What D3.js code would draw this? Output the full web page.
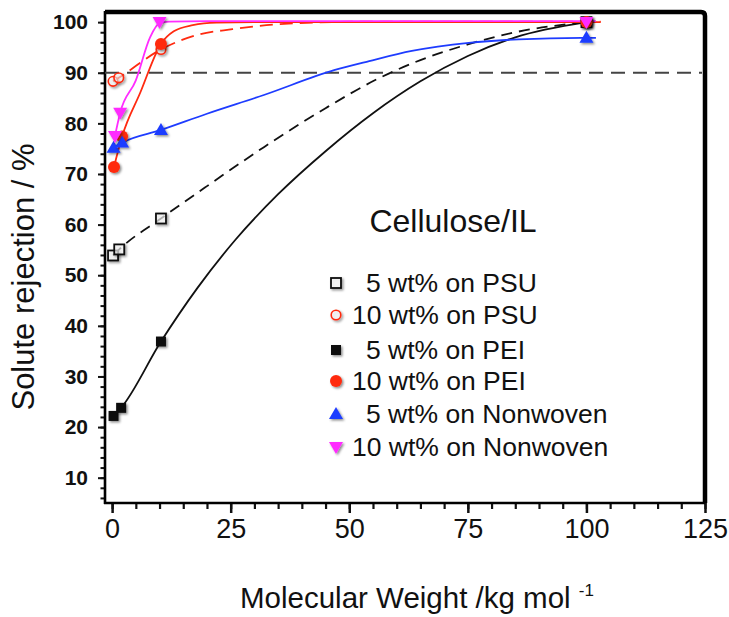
<!DOCTYPE html>
<html>
<head>
<meta charset="utf-8">
<script src="https://cdn.jsdelivr.net/npm/d3@7"></script>
<style>
  html, body { margin: 0; padding: 0; background: #fff; }
  svg { display: block; font-family: "Liberation Sans", Arial, Helvetica, sans-serif; }
</style>
</head>
<body>
<svg id="chart" width="729" height="617"></svg>
<script>
// ---------------- data ----------------
const xTickValues = [0, 25, 50, 75, 100, 125];
const yTickValues = [10, 20, 30, 40, 50, 60, 70, 80, 90, 100];
const thresholdLevel = 90;

const seriesNames = ["5 wt% on PSU", "10 wt% on PSU", "5 wt% on PEI", "10 wt% on PEI", "5 wt% on Nonwoven", "10 wt% on Nonwoven"];
const legendTitle = "Cellulose/IL";

// measured points
const psu5X  = [0.2, 1.5, 10.3, 100];
const psu5Y  = [53.9, 55.1, 61.2, 100];
const psu10X = [0.2, 1.4, 10.3, 100];
const psu10Y = [88.3, 89.0, 94.6, 100];
const pei5X  = [0.3, 1.9, 10.3, 100];
const pei5Y  = [22.2, 23.8, 36.9, 100];
const pei10X = [0.4, 2.1, 10.3, 100];
const pei10Y = [71.4, 77.4, 95.7, 100];
const nw5X   = [0.3, 2.1, 10.3, 100];
const nw5Y   = [75.2, 76.2, 78.7, 96.9];
const nw10X  = [0.6, 1.7, 10.0, 100];
const nw10Y  = [77.5, 82.1, 100, 100];

// fitted curves
const psu5FitX  = [0.2, 1.5, 10.3, 20, 32, 45, 56, 65, 75, 85, 100];
const psu5FitY  = [53.9, 55.1, 61.2, 67.6, 75.3, 83.0, 88.8, 92.5, 95.6, 98.0, 100];
const psu10FitX = [0.2, 1.4, 10.3, 18.5, 25.4, 32.5, 39.5, 46.4, 56, 100, 103];
const psu10FitY = [88.3, 89.0, 94.6, 97.6, 98.6, 99.4, 99.8, 100, 100.1, 100.1, 100.1];
const pei5FitX  = [0.3, 1.9, 10.3, 18, 26, 35, 45, 55, 65, 75, 85, 100];
const pei5FitY  = [22.2, 23.8, 36.9, 47.5, 57.0, 66.0, 74.5, 82.0, 88.3, 93.3, 97.0, 100];
const pei10FitX = [0.4, 2.1, 5.9, 10.3, 13, 17, 22, 30, 50, 100, 103];
const pei10FitY = [71.4, 77.4, 86, 95.7, 98.2, 99.4, 99.9, 100, 100, 100, 100];
const nw5FitX   = [0.3, 2.1, 10.3, 20, 32, 46.8, 54.2, 63.2, 75.2, 85.7, 99, 102];
const nw5FitY   = [75.2, 76.2, 78.7, 81.9, 85.6, 90.5, 92.3, 94.3, 95.9, 96.6, 96.9, 96.9];
const nw10FitX  = [0.6, 1.7, 5, 8, 10.0, 12, 20, 50, 100, 102];
const nw10FitY  = [77.5, 82.1, 88.5, 97, 99.8, 100.1, 100.2, 100.2, 100.2, 100.2];

// ---------------- setup ----------------
const svg = d3.select("#chart");
const FONT = '"Liberation Sans", Arial, Helvetica, sans-serif';

const x = d3.scaleLinear().domain([-1.5, 125]).range([105, 705]);
const y = d3.scaleLinear().domain([5, 102]).range([503, 12]);

const defs = svg.append("defs");
const f = defs.append("filter").attr("id", "shadow").attr("x", "-50%").attr("y", "-50%").attr("width", "200%").attr("height", "200%");
f.append("feDropShadow").attr("dx", 1.5).attr("dy", 1.5).attr("stdDeviation", 1.3)
  .attr("flood-color", "#000").attr("flood-opacity", 0.45);

const RED = "#ff2a10", BLUE = "#1e3cff", MAG = "#ff2cff", BLK = "#111";

const series = [
  {name: seriesNames[0], X: psu5X,  Y: psu5Y,  fx: psu5FitX,  fy: psu5FitY,  color: BLK, dash: "11,7", marker: "squareOpen"},
  {name: seriesNames[1], X: psu10X, Y: psu10Y, fx: psu10FitX, fy: psu10FitY, color: RED, dash: "13,7", marker: "circleOpen"},
  {name: seriesNames[2], X: pei5X,  Y: pei5Y,  fx: pei5FitX,  fy: pei5FitY,  color: BLK, dash: null,   marker: "square"},
  {name: seriesNames[3], X: pei10X, Y: pei10Y, fx: pei10FitX, fy: pei10FitY, color: RED, dash: null,   marker: "circle"},
  {name: seriesNames[4], X: nw5X,   Y: nw5Y,   fx: nw5FitX,   fy: nw5FitY,   color: BLUE, dash: null,  marker: "triUp"},
  {name: seriesNames[5], X: nw10X,  Y: nw10Y,  fx: nw10FitX,  fy: nw10FitY,  color: MAG, dash: null,   marker: "triDown"}
];

// ---------------- axes ----------------
const yMinor = d3.range(6, 101, 2);
const xMinor = d3.range(0, 126, 5);

svg.append("g").attr("transform", `translate(${x(-1.5)},0)`)
  .call(d3.axisLeft(y).tickValues(yMinor).tickSize(4.5).tickFormat(""))
  .call(g => g.select(".domain").remove())
  .call(g => g.selectAll("line").attr("stroke", "#111").attr("stroke-width", 2));

const yAx = svg.append("g").attr("transform", `translate(${x(-1.5)},0)`)
  .call(d3.axisLeft(y).tickValues(yTickValues).tickSize(7).tickPadding(10).tickFormat(d3.format("d")));
yAx.select(".domain").remove();
yAx.selectAll("line").attr("stroke", "#111").attr("stroke-width", 2);
yAx.selectAll("text").attr("font-family", FONT).attr("font-size", 21).attr("font-weight", "bold").attr("fill", "#111");

svg.append("g").attr("transform", `translate(0,${y(5)})`)
  .call(d3.axisBottom(x).tickValues(xMinor).tickSize(6).tickFormat(""))
  .call(g => g.select(".domain").remove())
  .call(g => g.selectAll("line").attr("stroke", "#111").attr("stroke-width", 2.2));

const xAx = svg.append("g").attr("transform", `translate(0,${y(5)})`)
  .call(d3.axisBottom(x).tickValues(xTickValues).tickSize(10).tickPadding(6).tickFormat(d3.format("d")));
xAx.select(".domain").remove();
xAx.selectAll("line").attr("stroke", "#111").attr("stroke-width", 2.5);
xAx.selectAll("text").attr("font-family", FONT).attr("font-size", 27).attr("fill", "#111");

// frame
svg.append("line").attr("x1", x(-1.5)).attr("x2", x(-1.5)).attr("y1", y(102) - 1).attr("y2", y(5) + 1)
  .attr("stroke", "#000").attr("stroke-width", 2.6);
svg.append("line").attr("x1", x(-1.5) - 1).attr("x2", x(125)).attr("y1", y(5)).attr("y2", y(5))
  .attr("stroke", "#000").attr("stroke-width", 2.6);
svg.append("path")
  .attr("d", `M${x(-1.5)},${y(102)} L${x(125) - 4},${y(102)} Q${x(125)},${y(102)} ${x(125)},${y(102) + 4} L${x(125)},${y(5)}`)
  .attr("fill", "none").attr("stroke", "#000").attr("stroke-width", 4.5);

// threshold line
svg.append("line").attr("x1", x(-1.5)).attr("x2", x(125) - 3).attr("y1", y(thresholdLevel)).attr("y2", y(thresholdLevel))
  .attr("stroke", "#444").attr("stroke-width", 2.2).attr("stroke-dasharray", "14,8");

// ---------------- curves ----------------
const line = d3.line().x(d => x(d[0])).y(d => y(d[1])).curve(d3.curveMonotoneX);
const drawOrder = [0, 2, 4, 1, 3, 5];
drawOrder.forEach(i => {
  const s = series[i];
  svg.append("path").datum(d3.zip(s.fx, s.fy))
    .attr("d", line).attr("fill", "none").attr("stroke", s.color)
    .attr("stroke-width", 1.8).attr("stroke-dasharray", s.dash);
});

// ---------------- markers ----------------
function drawMarker(g, type, color, cx, cy) {
  const sh = "url(#shadow)";
  if (type === "squareOpen") {
    g.append("rect").attr("x", cx - 5).attr("y", cy - 5).attr("width", 10).attr("height", 10)
      .attr("fill", "#fff").attr("fill-opacity", 0.6).attr("stroke", color).attr("stroke-width", 1.8).attr("filter", sh);
  } else if (type === "square") {
    g.append("rect").attr("x", cx - 5).attr("y", cy - 5).attr("width", 10).attr("height", 10)
      .attr("fill", color).attr("filter", sh);
  } else if (type === "circleOpen") {
    g.append("circle").attr("cx", cx).attr("cy", cy).attr("r", 4.8)
      .attr("fill", "#fff").attr("fill-opacity", 0.5).attr("stroke", color).attr("stroke-width", 1.6).attr("filter", sh);
  } else if (type === "circle") {
    g.append("circle").attr("cx", cx).attr("cy", cy).attr("r", 6)
      .attr("fill", color).attr("filter", sh);
  } else if (type === "triUp") {
    g.append("path").attr("d", `M${cx},${cy - 7} L${cx + 7},${cy + 5} L${cx - 7},${cy + 5} Z`)
      .attr("fill", color).attr("filter", sh);
  } else if (type === "triDown") {
    g.append("path").attr("d", `M${cx},${cy + 7} L${cx + 7},${cy - 5} L${cx - 7},${cy - 5} Z`)
      .attr("fill", color).attr("filter", sh);
  }
}

const mg = svg.append("g");
[0, 1, 2, 3, 4, 5].forEach(i => {
  const s = series[i];
  s.X.forEach((xv, k) => drawMarker(mg, s.marker, s.color, x(xv), y(s.Y[k])));
});

// ---------------- legend ----------------
svg.append("text").attr("x", 453).attr("y", 232).attr("text-anchor", "middle")
  .attr("font-family", FONT).attr("font-size", 32).attr("fill", "#111").text(legendTitle);

const legendY = [283, 315, 350, 381, 414, 447];
const lg = svg.append("g");
series.forEach((s, i) => {
  drawMarker(lg, s.marker, s.color, 336, legendY[i]);
  const startX = s.name.startsWith("10") ? 352 : 366;
  lg.append("text").attr("x", startX).attr("y", legendY[i] + 9)
    .attr("font-family", FONT).attr("font-size", 26.5).attr("fill", "#111").text(s.name);
});

// ---------------- axis titles ----------------
const xt = svg.append("text").attr("x", 240).attr("y", 608)
  .attr("font-family", FONT).attr("font-size", 29.5).attr("fill", "#111");
xt.append("tspan").text("Molecular Weight /kg mol ");
xt.append("tspan").attr("font-size", 17).attr("dy", -12).text("-1");

svg.append("text").attr("transform", `translate(34,277) rotate(-90)`).attr("text-anchor", "middle")
  .attr("font-family", FONT).attr("font-size", 31).attr("fill", "#111").text("Solute rejection / %");
</script>
</body>
</html>
